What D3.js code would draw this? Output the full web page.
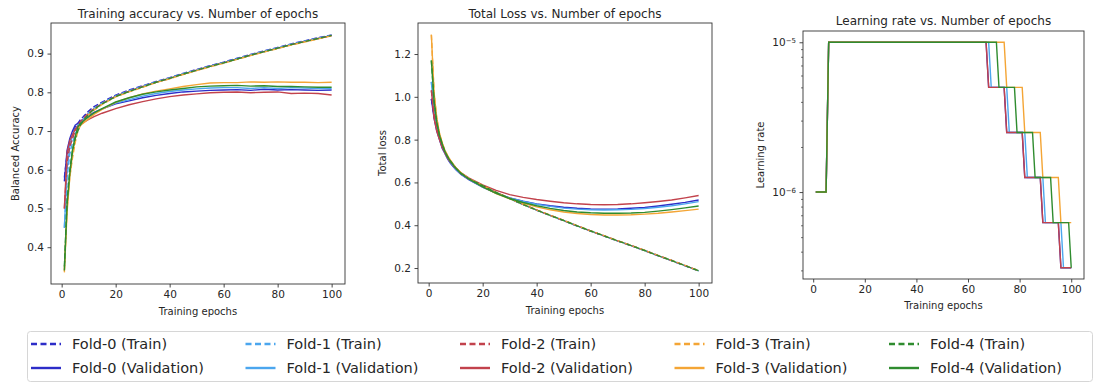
<!DOCTYPE html>
<html>
<head>
<meta charset="utf-8">
<script src="https://cdn.jsdelivr.net/npm/d3@7"></script>
<style>
  body { margin: 0; background: #fff; }
  text { font-family: "DejaVu Sans", sans-serif; fill: #262626; }
</style>
</head>
<body>
<svg id="chart" width="1099" height="383"></svg>
<script>
// ---- data ----
const foldNames = ["Fold-0", "Fold-1", "Fold-2", "Fold-3", "Fold-4"];
const foldColors = ["#2d2dc8", "#4ba6ee", "#c2424c", "#f4a535", "#2f8c2f"];

const epochs = [1, 2, 3, 4, 5, 6, 7, 8, 10, 12, 15, 20, 25, 30, 35, 40, 45, 50, 55, 60, 65, 70, 75, 80, 85, 90, 95, 100];

const trainAcc = [
  [0.58, 0.64, 0.67, 0.69, 0.71, 0.72, 0.73, 0.737, 0.752, 0.763, 0.775, 0.793, 0.806, 0.817, 0.828, 0.838, 0.849, 0.859, 0.869, 0.878, 0.888, 0.898, 0.907, 0.916, 0.925, 0.933, 0.941, 0.948],
  [0.45, 0.58, 0.64, 0.67, 0.69, 0.71, 0.72, 0.73, 0.747, 0.759, 0.772, 0.791, 0.804, 0.816, 0.827, 0.837, 0.848, 0.858, 0.868, 0.877, 0.887, 0.897, 0.906, 0.915, 0.924, 0.932, 0.940, 0.947],
  [0.50, 0.62, 0.66, 0.68, 0.70, 0.715, 0.725, 0.732, 0.747, 0.758, 0.771, 0.790, 0.803, 0.815, 0.826, 0.836, 0.847, 0.857, 0.867, 0.876, 0.886, 0.896, 0.905, 0.914, 0.923, 0.931, 0.939, 0.946],
  [0.34, 0.50, 0.58, 0.63, 0.67, 0.70, 0.715, 0.725, 0.742, 0.754, 0.769, 0.788, 0.801, 0.813, 0.825, 0.835, 0.846, 0.856, 0.866, 0.875, 0.885, 0.895, 0.904, 0.913, 0.922, 0.930, 0.938, 0.946],
  [0.35, 0.52, 0.60, 0.65, 0.68, 0.70, 0.716, 0.726, 0.744, 0.756, 0.770, 0.789, 0.802, 0.814, 0.826, 0.836, 0.847, 0.857, 0.867, 0.876, 0.886, 0.896, 0.905, 0.914, 0.923, 0.931, 0.939, 0.947]
];

const valAcc = [
  [0.57, 0.65, 0.68, 0.70, 0.715, 0.72, 0.725, 0.73, 0.74, 0.748, 0.757, 0.770, 0.778, 0.786, 0.792, 0.797, 0.801, 0.803, 0.805, 0.806, 0.807, 0.805, 0.808, 0.806, 0.807, 0.806, 0.805, 0.806],
  [0.45, 0.60, 0.66, 0.69, 0.705, 0.715, 0.72, 0.727, 0.737, 0.746, 0.757, 0.772, 0.781, 0.790, 0.797, 0.802, 0.806, 0.809, 0.811, 0.812, 0.812, 0.810, 0.812, 0.810, 0.812, 0.811, 0.810, 0.810],
  [0.50, 0.645, 0.675, 0.69, 0.705, 0.712, 0.718, 0.722, 0.730, 0.737, 0.746, 0.758, 0.768, 0.776, 0.783, 0.789, 0.793, 0.796, 0.799, 0.800, 0.801, 0.799, 0.800, 0.801, 0.797, 0.798, 0.797, 0.793],
  [0.335, 0.49, 0.58, 0.64, 0.68, 0.705, 0.715, 0.72, 0.732, 0.743, 0.756, 0.774, 0.786, 0.796, 0.803, 0.809, 0.815, 0.820, 0.824, 0.825, 0.825, 0.827, 0.826, 0.827, 0.826, 0.826, 0.825, 0.826],
  [0.34, 0.51, 0.59, 0.65, 0.685, 0.71, 0.72, 0.726, 0.737, 0.747, 0.758, 0.775, 0.786, 0.795, 0.801, 0.806, 0.810, 0.814, 0.816, 0.817, 0.818, 0.816, 0.817, 0.815, 0.815, 0.814, 0.813, 0.813]
];

const trainLoss = [
  [0.99, 0.91, 0.85, 0.81, 0.77, 0.74, 0.715, 0.695, 0.665, 0.64, 0.615, 0.585, 0.553, 0.525, 0.497, 0.471, 0.446, 0.422, 0.397, 0.373, 0.350, 0.327, 0.305, 0.282, 0.258, 0.235, 0.211, 0.187],
  [1.07, 0.94, 0.86, 0.81, 0.77, 0.74, 0.715, 0.695, 0.665, 0.64, 0.614, 0.584, 0.552, 0.524, 0.496, 0.470, 0.445, 0.421, 0.396, 0.372, 0.349, 0.326, 0.304, 0.281, 0.257, 0.234, 0.210, 0.186],
  [1.03, 0.92, 0.85, 0.81, 0.77, 0.74, 0.716, 0.696, 0.666, 0.641, 0.615, 0.585, 0.553, 0.525, 0.497, 0.471, 0.446, 0.422, 0.397, 0.373, 0.350, 0.327, 0.305, 0.282, 0.258, 0.235, 0.211, 0.187],
  [1.29, 1.02, 0.90, 0.83, 0.785, 0.75, 0.725, 0.703, 0.670, 0.644, 0.617, 0.586, 0.554, 0.526, 0.498, 0.472, 0.447, 0.423, 0.398, 0.374, 0.351, 0.328, 0.306, 0.283, 0.259, 0.236, 0.212, 0.188],
  [1.17, 0.98, 0.88, 0.82, 0.78, 0.745, 0.72, 0.70, 0.668, 0.642, 0.616, 0.585, 0.553, 0.525, 0.497, 0.471, 0.446, 0.422, 0.397, 0.373, 0.350, 0.327, 0.305, 0.282, 0.258, 0.235, 0.211, 0.187]
];

const valLoss = [
  [0.99, 0.90, 0.84, 0.80, 0.76, 0.735, 0.71, 0.69, 0.66, 0.637, 0.612, 0.578, 0.550, 0.528, 0.512, 0.500, 0.491, 0.484, 0.479, 0.476, 0.475, 0.476, 0.479, 0.483, 0.490, 0.498, 0.507, 0.518],
  [1.07, 0.93, 0.86, 0.81, 0.77, 0.74, 0.715, 0.695, 0.663, 0.64, 0.614, 0.578, 0.550, 0.528, 0.511, 0.498, 0.488, 0.480, 0.475, 0.472, 0.471, 0.472, 0.474, 0.478, 0.484, 0.491, 0.500, 0.510],
  [1.03, 0.90, 0.84, 0.80, 0.765, 0.74, 0.715, 0.697, 0.668, 0.645, 0.62, 0.588, 0.563, 0.543, 0.530, 0.520, 0.512, 0.505, 0.500, 0.497, 0.496, 0.497, 0.500, 0.505, 0.511, 0.518, 0.528, 0.539],
  [1.29, 1.02, 0.90, 0.83, 0.785, 0.75, 0.725, 0.705, 0.67, 0.645, 0.617, 0.580, 0.548, 0.523, 0.502, 0.486, 0.472, 0.462, 0.455, 0.450, 0.448, 0.448, 0.449, 0.452, 0.456, 0.462, 0.468, 0.475],
  [1.17, 0.98, 0.88, 0.82, 0.78, 0.745, 0.72, 0.70, 0.667, 0.642, 0.615, 0.579, 0.549, 0.525, 0.506, 0.491, 0.479, 0.469, 0.462, 0.458, 0.456, 0.456, 0.457, 0.460, 0.466, 0.473, 0.481, 0.490]
];

// learning-rate schedule: corner points (epoch, lr) for each fold
const lrEpochs = [
  [1, 5, 6, 67, 68, 74, 75, 81, 82, 88, 89, 95, 96, 100],
  [1, 5, 6, 68, 69, 75, 76, 82, 83, 89, 90, 96, 97, 100],
  [1, 5, 6, 67, 68, 74, 75, 81, 82, 88, 89, 95, 96, 100],
  [1, 5, 6, 74, 75, 81, 82, 88, 89, 95, 96, 100],
  [1, 5, 6, 71, 72, 78, 79, 85, 86, 92, 93, 99, 100]
];
const lrValues = [
  [1e-6, 1e-6, 1e-5, 1e-5, 5e-6, 5e-6, 2.5e-6, 2.5e-6, 1.25e-6, 1.25e-6, 6.25e-7, 6.25e-7, 3.125e-7, 3.125e-7],
  [1e-6, 1e-6, 1e-5, 1e-5, 5e-6, 5e-6, 2.5e-6, 2.5e-6, 1.25e-6, 1.25e-6, 6.25e-7, 6.25e-7, 3.125e-7, 3.125e-7],
  [1e-6, 1e-6, 1e-5, 1e-5, 5e-6, 5e-6, 2.5e-6, 2.5e-6, 1.25e-6, 1.25e-6, 6.25e-7, 6.25e-7, 3.125e-7, 3.125e-7],
  [1e-6, 1e-6, 1e-5, 1e-5, 5e-6, 5e-6, 2.5e-6, 2.5e-6, 1.25e-6, 1.25e-6, 6.25e-7, 6.25e-7],
  [1e-6, 1e-6, 1e-5, 1e-5, 5e-6, 5e-6, 2.5e-6, 2.5e-6, 1.25e-6, 1.25e-6, 6.25e-7, 6.25e-7, 3.125e-7]
];

const xTicks = [0, 20, 40, 60, 80, 100];
const accTicks = [0.4, 0.5, 0.6, 0.7, 0.8, 0.9];
const lossTicks = [0.2, 0.4, 0.6, 0.8, 1.0, 1.2];
const lrMajorTicks = [1e-6, 1e-5];
const lrMinorTicks = [3e-7, 4e-7, 5e-7, 6e-7, 7e-7, 8e-7, 9e-7, 2e-6, 3e-6, 4e-6, 5e-6, 6e-6, 7e-6, 8e-6, 9e-6];

// ---- drawing ----
const svg = d3.select("#chart");
const dashTrain = "5.5,2.4";

function drawPanel(cfg) {
    const box = cfg.box;
    const x = d3.scaleLinear().domain([-3.95, 104.95]).range([box.x0, box.x1]);
    const y = cfg.y.range([box.y1, box.y0]);

    const g = svg.append("g");
    const clipId = "clip-" + cfg.id;
    g.append("clipPath").attr("id", clipId)
        .append("rect")
        .attr("x", box.x0).attr("y", box.y0)
        .attr("width", box.x1 - box.x0).attr("height", box.y1 - box.y0);

    // axes
    const xAxis = g.append("g")
        .attr("transform", `translate(0,${box.y1})`)
        .call(d3.axisBottom(x).tickValues(xTicks).tickSize(3.5).tickPadding(3.5).tickFormat(d3.format("d")));
    const yAxis = g.append("g")
        .attr("transform", `translate(${box.x0},0)`)
        .call(d3.axisLeft(y).tickValues(cfg.yTicks).tickSize(3.5).tickPadding(3.5).tickFormat(cfg.yFormat));
    [xAxis, yAxis].forEach(a => {
        a.select(".domain").remove();
        a.selectAll("line").attr("stroke", "#333").attr("stroke-width", 0.9);
        a.selectAll("text").style("font-size", "10.5px").attr("fill", "#262626");
    });

    if (cfg.minorTicks) {
        const minor = g.append("g")
            .attr("transform", `translate(${box.x0},0)`)
            .call(d3.axisLeft(y).tickValues(cfg.minorTicks).tickSize(2).tickFormat(""));
        minor.select(".domain").remove();
        minor.selectAll("line").attr("stroke", "#333").attr("stroke-width", 0.7);
    }
    if (cfg.logLabels) {
        // replace the plain labels with 10^n style
        yAxis.selectAll(".tick text").each(function(d) {
            const t = d3.select(this).text("");
            t.append("tspan").text("10");
            t.append("tspan").attr("dy", "-0.45em").style("font-size", "7px")
                .text("\u2212" + Math.round(-Math.log10(d)));
        });
    }

    // lines
    const plot = g.append("g").attr("clip-path", `url(#${clipId})`);
    cfg.series.forEach(s => {
        const pts = s.xs.map((e, i) => [e, s.ys[i]]);
        plot.append("path")
            .datum(pts)
            .attr("fill", "none")
            .attr("stroke", s.color)
            .attr("stroke-width", 1.4)
            .attr("stroke-dasharray", s.dashed ? dashTrain : null)
            .attr("d", d3.line().x(d => x(d[0])).y(d => y(d[1])));
    });

    // frame
    g.append("rect")
        .attr("x", box.x0).attr("y", box.y0)
        .attr("width", box.x1 - box.x0).attr("height", box.y1 - box.y0)
        .attr("fill", "none").attr("stroke", "#333").attr("stroke-width", 0.9);

    // labels
    const cx = (box.x0 + box.x1) / 2;
    g.append("text").attr("x", cx).attr("y", cfg.titleY)
        .attr("text-anchor", "middle").style("font-size", "12px").text(cfg.title);
    g.append("text").attr("x", cx).attr("y", cfg.xLabelY)
        .attr("text-anchor", "middle").style("font-size", "10px").text("Training epochs");
    g.append("text")
        .attr("transform", `translate(${cfg.yLabelX},${(box.y0 + box.y1) / 2}) rotate(-90)`)
        .attr("text-anchor", "middle").attr("dy", "0.35em")
        .style("font-size", "10px").text(cfg.yLabel);
}

function pairSeries(trainArr, valArr) {
    const out = [];
    foldNames.forEach((f, i) => {
        out.push({ xs: epochs, ys: trainArr[i], color: foldColors[i], dashed: true });
        out.push({ xs: epochs, ys: valArr[i], color: foldColors[i], dashed: false });
    });
    return out;
}

drawPanel({
    id: "acc",
    box: { x0: 51, x1: 345, y0: 23, y1: 284 },
    y: d3.scaleLinear().domain([0.305, 0.979]),
    yTicks: accTicks,
    yFormat: d3.format(".1f"),
    series: pairSeries(trainAcc, valAcc),
    title: "Training accuracy vs. Number of epochs",
    titleY: 18,
    xLabelY: 315,
    yLabel: "Balanced Accuracy",
    yLabelX: 15
});

drawPanel({
    id: "loss",
    box: { x0: 418, x1: 712, y0: 23, y1: 283 },
    y: d3.scaleLinear().domain([0.13, 1.345]),
    yTicks: lossTicks,
    yFormat: d3.format(".1f"),
    series: pairSeries(trainLoss, valLoss),
    title: "Total Loss vs. Number of epochs",
    titleY: 18,
    xLabelY: 314,
    yLabel: "Total loss",
    yLabelX: 382
});

drawPanel({
    id: "lr",
    box: { x0: 803, x1: 1084, y0: 31, y1: 279 },
    y: d3.scaleLog().domain([Math.pow(10, -6.5804), Math.pow(10, -4.9247)]),
    yTicks: lrMajorTicks,
    yFormat: d3.format(".0e"),
    minorTicks: lrMinorTicks,
    logLabels: true,
    series: foldNames.map((f, i) => ({ xs: lrEpochs[i], ys: lrValues[i], color: foldColors[i], dashed: false })),
    title: "Learning rate vs. Number of epochs",
    titleY: 25,
    xLabelY: 309,
    yLabel: "Learning rate",
    yLabelX: 760
});

// ---- legend ----
const legend = svg.append("g");
legend.append("rect")
    .attr("x", 27.5).attr("y", 331.5).attr("width", 1065).attr("height", 50)
    .attr("rx", 3).attr("fill", "#fff").attr("stroke", "#d6d6d6").attr("stroke-width", 1);

const colStep = 214.5;
const rowY = [344, 368];
foldNames.forEach((f, i) => {
    const hx = 31 + i * colStep;
    ["Train", "Validation"].forEach((kind, r) => {
        legend.append("line")
            .attr("x1", hx).attr("x2", hx + 30)
            .attr("y1", rowY[r]).attr("y2", rowY[r])
            .attr("stroke", foldColors[i]).attr("stroke-width", 2.4)
            .attr("stroke-dasharray", kind === "Train" ? "6,3.5" : null);
        legend.append("text")
            .attr("x", hx + 41).attr("y", rowY[r]).attr("dy", "0.36em")
            .style("font-size", "14.5px")
            .text(`${f} (${kind})`);
    });
});
</script>
</body>
</html>
